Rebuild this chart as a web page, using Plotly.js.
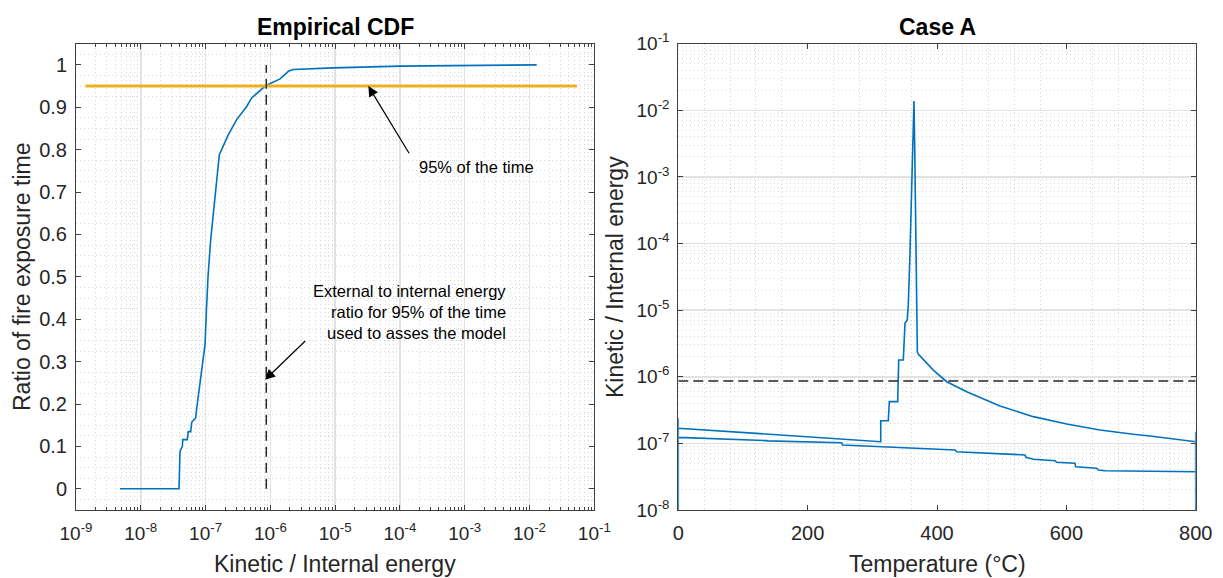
<!DOCTYPE html>
<html>
<head>
<meta charset="utf-8">
<script src="https://cdn.plot.ly/plotly-3.0.1.min.js"></script>
<style>
  html, body { margin: 0; padding: 0; background: #ffffff; }
  #chart { width: 1223px; height: 578px; }
</style>
</head>
<body>
<div id="chart"></div>
<script>
// Empirical CDF of the kinetic / internal energy ratio
const cdfEnergy = [4.78e-9, 3.89e-8, 4.03e-8, 4.38e-8, 4.44e-8, 5.22e-8, 5.41e-8, 5.89e-8, 6.11e-8,
  7.03e-8, 7.30e-8, 7.91e-8, 8.49e-8, 9.12e-8, 9.80e-8, 1.03e-7, 1.09e-7, 1.20e-7, 1.40e-7,
  1.63e-7, 2.24e-7, 3.02e-7, 4.31e-7, 5.15e-7, 8.47e-7, 1.41e-6, 1.79e-6, 1.89e-6, 2.26e-6,
  9.27e-6, 1.0e-4, 1.0e-3, 1.29e-2];
const cdfRatio = [0, 0, 0.088, 0.100, 0.116, 0.116, 0.135, 0.135, 0.157,
  0.167, 0.190, 0.230, 0.257, 0.300, 0.340, 0.420, 0.500, 0.588, 0.690,
  0.788, 0.835, 0.871, 0.902, 0.922, 0.951, 0.967, 0.981, 0.985, 0.989,
  0.993, 0.997, 0.999, 1.000];

// 95 % threshold and the corresponding energy ratio
const thresholdRatio = 0.95;
const thresholdSpan = [1.4e-9, 0.054];
const energyAt95 = 8.65e-7;

// Case A: kinetic / internal energy against temperature (heating then cooling)
const tempC = [0, 0, 0, 313, 313, 324.7, 326.3, 339.2, 340.8, 347.9, 350.5, 354, 355.6,
  358, 360, 362, 364.4, 365.5, 366.5, 367.5, 368.3, 369.6, 371, 394.3, 415, 445.9, 497.4,
  548.9, 600.5, 652, 703.5, 729.3, 800, 800, 800, 800,
  659.7, 649.4, 646.9, 614.4, 613.3, 585, 582.4, 548.9, 537.6, 536, 430.4, 427.8,
  254, 252.6, 138, 136.6, 0];
const ratioKI = [1e-9, 2.38e-7, 1.69e-7, 1.06e-7, 2.19e-7, 2.19e-7, 4.23e-7, 4.23e-7, 1.79e-6, 1.79e-6, 6.35e-6, 7.11e-6, 1.2e-5,
  6e-5, 3.5e-4, 2.5e-3, 1.38e-2, 3e-3, 5e-4, 1.1e-4, 1.42e-5, 2.38e-6, 2.2e-6, 1.26e-6, 8.43e-7, 5.97e-7, 3.64e-7,
  2.52e-7, 1.95e-7, 1.59e-7, 1.37e-7, 1.29e-7, 1.06e-7, 1.5e-7, 1e-9, 3.76e-8,
  3.89e-8, 3.98e-8, 4.23e-8, 4.47e-8, 5.02e-8, 5.2e-8, 5.5e-8, 5.77e-8, 6.18e-8, 6.7e-8, 7.5e-8, 7.96e-8,
  9.46e-8, 1.02e-7, 1.09e-7, 1.10e-7, 1.23e-7];
const tempSpan = [0, 800];

// Decade tick labels for the two logarithmic axes
const energyTickVals = [1e-9, 1e-8, 1e-7, 1e-6, 1e-5, 1e-4, 1e-3, 1e-2, 1e-1];
const energyTickText = ['10<sup>-9</sup>', '10<sup>-8</sup>', '10<sup>-7</sup>', '10<sup>-6</sup>',
  '10<sup>-5</sup>', '10<sup>-4</sup>', '10<sup>-3</sup>', '10<sup>-2</sup>', '10<sup>-1</sup>'];
const ratioTickVals = [1e-8, 1e-7, 1e-6, 1e-5, 1e-4, 1e-3, 1e-2, 1e-1];
const ratioTickText = ['10<sup>-8</sup>', '10<sup>-7</sup>', '10<sup>-6</sup>', '10<sup>-5</sup>',
  '10<sup>-4</sup>', '10<sup>-3</sup>', '10<sup>-2</sup>', '10<sup>-1</sup>'];

const noteTop = '95% of the time';
const noteLines = ['External to internal energy', 'ratio for 95% of the time', 'used to asses the model'];

const W = 1223, H = 578;
const px = x => x / W;
const py = y => 1 - y / H;

const blue = '#0072BD';
const orange = '#EDB120';
const ink = '#262626';
const font = 'Liberation Sans, Arial, Helvetica, sans-serif';

const traces = [
  { x: cdfEnergy, y: cdfRatio, type: 'scatter', mode: 'lines', xaxis: 'x', yaxis: 'y',
    line: { color: blue, width: 1.6 }, hoverinfo: 'skip' },
  { x: thresholdSpan, y: [thresholdRatio, thresholdRatio], type: 'scatter', mode: 'lines', xaxis: 'x', yaxis: 'y',
    line: { color: orange, width: 3 }, hoverinfo: 'skip' },
  { x: [energyAt95, energyAt95], y: [0, 1], type: 'scatter', mode: 'lines', xaxis: 'x', yaxis: 'y',
    line: { color: ink, width: 1.5, dash: '10px,6px' }, hoverinfo: 'skip' },
  { x: tempC, y: ratioKI, type: 'scatter', mode: 'lines', xaxis: 'x2', yaxis: 'y2',
    line: { color: blue, width: 1.6 }, hoverinfo: 'skip' },
  { x: tempSpan, y: [energyAt95, energyAt95], type: 'scatter', mode: 'lines', xaxis: 'x2', yaxis: 'y2',
    line: { color: ink, width: 1.5, dash: '10px,5px' }, hoverinfo: 'skip' }
];

const axisBase = {
  showline: true, linecolor: '#404040', linewidth: 1, mirror: 'ticks',
  ticks: 'inside', ticklen: 5, tickwidth: 1, tickcolor: '#404040',
  zeroline: false, tickfont: { family: font, size: 19, color: ink },
  gridcolor: '#e2e2e2', gridwidth: 1.5
};
const linearTickFont = { family: font, size: 20, color: ink };
const dotGrid = { showgrid: true, gridcolor: '#d8d8d8', gridwidth: 1, griddash: '1px,3px' };

const titleFont = { family: font, size: 23, color: '#000' };
const labelFont = { family: font, size: 23, color: ink };
const noteFont = { family: font, size: 16.5, color: '#000' };

const annotations = [
  { text: '<b>Empirical CDF</b>', xref: 'paper', yref: 'paper', x: px(335), y: py(27),
    xanchor: 'center', yanchor: 'middle', showarrow: false, font: titleFont },
  { text: '<b>Case A</b>', xref: 'paper', yref: 'paper', x: px(937), y: py(27),
    xanchor: 'center', yanchor: 'middle', showarrow: false, font: titleFont },
  { text: 'Kinetic / Internal energy', xref: 'paper', yref: 'paper', x: px(335), y: py(564),
    xanchor: 'center', yanchor: 'middle', showarrow: false, font: labelFont },
  { text: 'Temperature (°C)', xref: 'paper', yref: 'paper', x: px(937), y: py(564),
    xanchor: 'center', yanchor: 'middle', showarrow: false, font: labelFont },
  { text: 'Ratio of fire exposure time', xref: 'paper', yref: 'paper', x: px(22), y: py(277),
    xanchor: 'center', yanchor: 'middle', textangle: -90, showarrow: false, font: labelFont },
  { text: 'Kinetic / Internal energy', xref: 'paper', yref: 'paper', x: px(615), y: py(277),
    xanchor: 'center', yanchor: 'middle', textangle: -90, showarrow: false, font: labelFont },
  // arrow to the 95 % line
  { xref: 'x', yref: 'y', axref: 'x', ayref: 'y', x: Math.log10(3.25e-5), y: thresholdRatio,
    ax: Math.log10(1.43e-4), ay: 0.788, text: '', showarrow: true, arrowhead: 2, arrowsize: 1.7,
    arrowwidth: 1.2, arrowcolor: '#000' },
  { text: noteTop, xref: 'x', yref: 'y', x: -3.742, y: 0.760, xanchor: 'left', yanchor: 'middle',
    showarrow: false, font: noteFont },
  // arrow to the dashed energy ratio
  { xref: 'x', yref: 'y', axref: 'x', ayref: 'y', x: -6.083, y: 0.257,
    ax: -5.439, ay: 0.352, text: '', showarrow: true, arrowhead: 2, arrowsize: 1.7,
    arrowwidth: 1.2, arrowcolor: '#000' }
];
const lineY = [0.466, 0.416, 0.367];
noteLines.forEach((t, i) => annotations.push({
  text: t, xref: 'x', yref: 'y', x: -2.328, y: lineY[i], xanchor: 'right', yanchor: 'middle',
  align: 'right', showarrow: false, font: noteFont
}));

const layout = {
  width: W, height: H,
  margin: { l: 0, r: 0, t: 0, b: 0 },
  paper_bgcolor: '#ffffff', plot_bgcolor: '#ffffff',
  showlegend: false,
  font: { family: font, color: ink },
  xaxis: Object.assign({}, axisBase, {
    domain: [px(76), px(594.3)], anchor: 'y', type: 'log', range: [-9, -1],
    tickmode: 'array', tickvals: energyTickVals, ticktext: energyTickText,
    showgrid: true, ticklabelstandoff: 6,
    minor: Object.assign({ dtick: 'D1', ticks: 'inside', ticklen: 3, tickcolor: '#404040' }, dotGrid)
  }),
  yaxis: Object.assign({}, axisBase, {
    domain: [py(510), py(43.7)], anchor: 'x', range: [-0.05, 1.05], dtick: 0.1, tick0: 0,
    tickfont: linearTickFont,
    showgrid: false, ticklabelstandoff: 4, minor: Object.assign({ dtick: 0.025, ticks: '' }, dotGrid)
  }),
  xaxis2: Object.assign({}, axisBase, {
    domain: [px(678.3), px(1195.7)], anchor: 'y2', range: [0, 800], dtick: 200, tick0: 0,
    tickfont: linearTickFont,
    showgrid: false, ticklabelstandoff: 5, minor: Object.assign({ dtick: 40, ticks: '' }, dotGrid)
  }),
  yaxis2: Object.assign({}, axisBase, {
    domain: [py(510), py(43.7)], anchor: 'x2', type: 'log', range: [-8, -1],
    tickmode: 'array', tickvals: ratioTickVals, ticktext: ratioTickText,
    showgrid: true, ticklabelstandoff: 4,
    minor: Object.assign({ dtick: 'D1', ticks: '' }, dotGrid)
  }),
  annotations: annotations
};

Plotly.newPlot('chart', traces, layout, { staticPlot: true, displayModeBar: false });
</script>
</body>
</html>
